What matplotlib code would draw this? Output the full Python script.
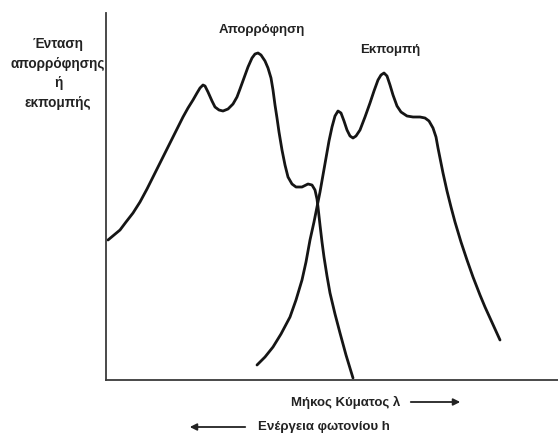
import matplotlib
matplotlib.use("Agg")
import matplotlib.pyplot as plt

# Wavelength (arbitrary units) and intensity (arbitrary units)
abs_x = [2, 8, 14, 20, 27, 34, 41, 48, 54, 60, 66, 72, 77, 82, 87, 91, 94, 97, 99, 102,
         106, 109, 113, 117, 122, 127, 131, 134, 138, 142, 146, 149, 152, 155, 159, 162,
         165, 167, 169, 171, 173, 176, 179, 182, 186, 190, 196, 202, 206, 209, 211, 212,
         214, 216, 218, 221, 224, 229, 234, 240, 247]
abs_y = [140, 145, 150, 158, 167, 178, 191, 205, 217, 229, 241, 253, 263, 272, 280, 287,
         292, 295, 294, 288, 279, 273, 270, 269, 271, 276, 283, 291, 302, 313, 322, 326,
         327, 325, 319, 312, 302, 290, 275, 262, 248, 230, 215, 203, 196, 193, 193, 196,
         195, 190, 181, 173, 155, 138, 123, 104, 87, 66, 47, 25, 2]

emi_x = [151, 159, 167, 175, 184, 190, 196, 200, 204, 208, 211, 214, 217, 220, 223, 226,
         229, 232, 235, 238, 241, 244, 247, 250, 254, 259, 264, 268, 272, 275, 278, 281,
         284, 287, 291, 295, 301, 307, 314, 319, 323, 327, 330, 332, 334, 337, 341, 345,
         349, 355, 361, 367, 374, 379, 384, 389, 394]
emi_y = [15, 23, 33, 46, 63, 80, 100, 118, 140, 158, 173, 188, 205, 222, 239, 253, 264,
         269, 267, 259, 250, 244, 242, 244, 250, 263, 277, 289, 300, 305, 307, 304, 295,
         285, 274, 268, 264, 263, 263, 262, 259, 252, 243, 232, 222, 207, 189, 173, 158,
         138, 120, 103, 85, 73, 62, 51, 40]

fig = plt.figure(figsize=(5.58, 4.36), dpi=100)
ax = fig.add_axes([106 / 558, 56 / 436, 452 / 558, 367 / 436])
ax.set_xlim(0, 452)
ax.set_ylim(0, 367)

line_kw = dict(color="#151515", lw=2.0, solid_joinstyle="round", solid_capstyle="round")
ax.plot(abs_x, abs_y, **line_kw)
ax.plot(emi_x, emi_y, **line_kw)

for s in ["top", "right"]:
    ax.spines[s].set_visible(False)
for s in ["left", "bottom"]:
    ax.spines[s].set_color("#3a3a3a")
    ax.spines[s].set_linewidth(1.3)
ax.set_xticks([])
ax.set_yticks([])

fam = ["Liberation Sans Narrow", "Liberation Sans", "DejaVu Sans"]
tk = dict(family=fam, fontweight="bold", color="#222222", fontsize=9.5)

ax.text(156, 350, "Απορρόφηση", ha="center", va="center", **tk)
ax.text(284, 330, "Εκπομπή", ha="center", va="center", **tk)

ylabel_lines = ["Ένταση", "απορρόφησης", "ή", "εκπομπής"]
for i, t in enumerate(ylabel_lines):
    ax.text(-48, 336 - i * 19.7, t, ha="center", va="center", clip_on=False,
            family=fam, fontweight="bold", color="#222222", fontsize=9.8)

ax.text(240, -22, "Μήκος Κύματος λ", ha="center", va="center", clip_on=False, **tk)
ax.annotate("", xy=(357, -22), xytext=(302, -22), annotation_clip=False,
            arrowprops=dict(arrowstyle="-|>", color="#222222", lw=1.3, mutation_scale=10))
ax.text(218, -47, "Ενέργεια φωτονίου h", ha="center", va="center", clip_on=False, **tk)
ax.annotate("", xy=(81, -47), xytext=(142, -47), annotation_clip=False,
            arrowprops=dict(arrowstyle="-|>", color="#222222", lw=1.3, mutation_scale=10))

fig.savefig("out.png", dpi=100)
